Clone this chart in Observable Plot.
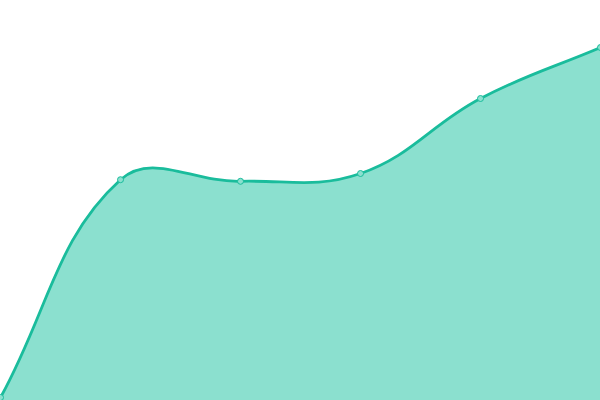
<!DOCTYPE html>
<html>
<head>
<meta charset="utf-8">
<script src="https://cdn.jsdelivr.net/npm/d3@7"></script>
<script src="https://cdn.jsdelivr.net/npm/@observablehq/plot@0.6"></script>
<style>
html, body { margin: 0; padding: 0; background: #fff; overflow: hidden; }
</style>
</head>
<body>
<div id="chart"></div>
<script>
const xs = [0, 1, 2, 3, 4, 5];
const values = [0.75, 55.2, 54.8, 56.75, 75.5, 88.25];
const data = xs.map((x, i) => ({x, y: values[i]}));

// Tension-based spline curve (cubic Bézier, control points from neighbours)
function tensionCurve(t) {
  function Curve(context) { this._context = context; }
  Curve.prototype = {
    areaStart() { this._line = 0; },
    areaEnd() { this._line = NaN; },
    lineStart() { this._pts = []; },
    point(x, y) { this._pts.push([+x, +y]); },
    lineEnd() {
      const p = this._pts, n = p.length, c = this._context;
      if (n) {
        if (this._line) c.lineTo(p[0][0], p[0][1]); else c.moveTo(p[0][0], p[0][1]);
        if (n === 2) c.lineTo(p[1][0], p[1][1]);
        else if (n > 2) {
          const cps = p.map((cur, i) => {
            const prev = p[i - 1] || cur, next = p[i + 1] || cur;
            const d01 = Math.hypot(cur[0] - prev[0], cur[1] - prev[1]);
            const d12 = Math.hypot(next[0] - cur[0], next[1] - cur[1]);
            let s01 = d01 / (d01 + d12), s12 = d12 / (d01 + d12);
            if (!isFinite(s01)) s01 = 0;
            if (!isFinite(s12)) s12 = 0;
            const fa = t * s01, fb = t * s12;
            return {
              px: cur[0] - fa * (next[0] - prev[0]), py: cur[1] - fa * (next[1] - prev[1]),
              nx: cur[0] + fb * (next[0] - prev[0]), ny: cur[1] + fb * (next[1] - prev[1])
            };
          });
          for (let i = 0; i < n - 1; i++) {
            c.bezierCurveTo(cps[i].nx, cps[i].ny, cps[i + 1].px, cps[i + 1].py, p[i + 1][0], p[i + 1][1]);
          }
        }
      }
      if (this._line || (this._line !== 0 && n === 1)) c.closePath();
      this._line = 1 - this._line;
    }
  };
  return (context) => new Curve(context);
}
const curve = tensionCurve(0.4);

const plot = Plot.plot({
  width: 600,
  height: 400,
  margin: 0,
  x: {domain: [0, 5], axis: null},
  y: {domain: [0, 100], axis: null},
  marks: [
    Plot.areaY(data, {x: "x", y: "y", curve, fill: "#8be0cf"}),
    Plot.lineY(data, {x: "x", y: "y", curve, stroke: "#1abc9c", strokeWidth: 2.8}),
    Plot.dot(data, {x: "x", y: "y", r: 3, fill: "#8be0cf", stroke: "#1abc9c", strokeWidth: 1})
  ]
});
document.getElementById("chart").appendChild(plot);
</script>
</body>
</html>
